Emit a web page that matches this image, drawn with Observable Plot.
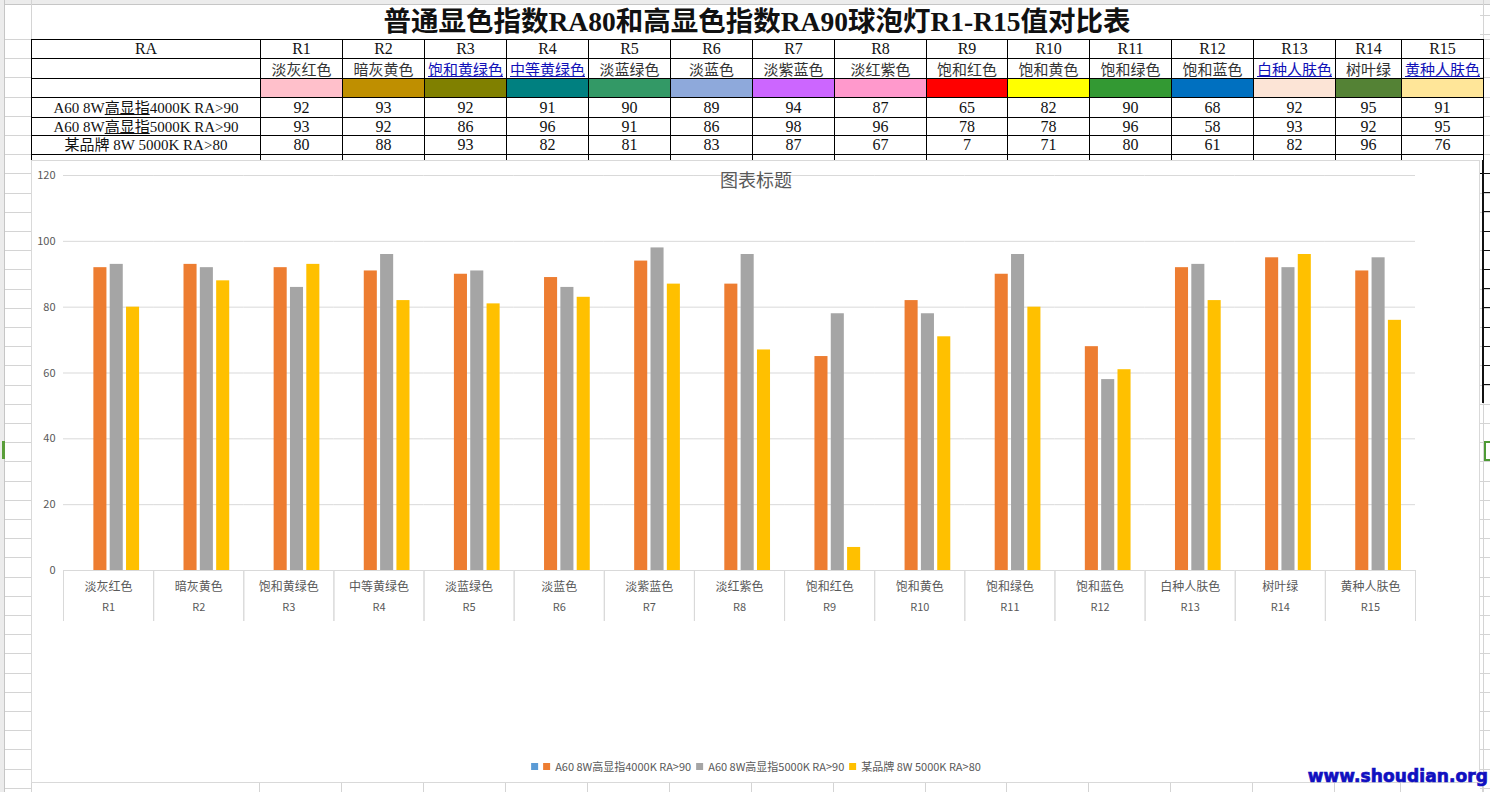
<!DOCTYPE html>
<html><head><meta charset="utf-8">
<script src="https://cdn.jsdelivr.net/npm/d3@7"></script>
<script src="https://cdn.jsdelivr.net/npm/@observablehq/plot@0.6"></script>
<style>
html,body{margin:0;padding:0;}
body{width:1490px;height:792px;overflow:hidden;position:relative;background:#fff;font-family:"Noto Sans CJK SC","Noto Sans",sans-serif;}
.abs{position:absolute;}
#colhdr{left:0;top:0;width:1490px;height:5px;background:#ececec;border-bottom:1px solid #c6c6c6;box-sizing:border-box;}
#rowhdr{left:0;top:0;width:5px;height:792px;background:#ececec;border-right:1px solid #c6c6c6;box-sizing:border-box;}
#leftgrid{left:5px;top:39px;width:26px;height:753px;background:repeating-linear-gradient(to bottom,#d4d4d4 0 1px,transparent 1px 19.2px);}
#rightgrid{left:1480px;top:0;width:10px;height:792px;background:repeating-linear-gradient(to bottom,#d4d4d4 0 1px,transparent 1px 19.2px);background-position:0 39px;}
#rightv{left:1483px;top:0;width:1px;height:792px;background:#d4d4d4;}
#leftv{left:31px;top:0;width:1px;height:792px;background:#d4d4d4;}
#blackaxis{left:1482px;top:160px;width:8px;height:243px;border-left:2px solid #111;box-sizing:border-box;
  background:repeating-linear-gradient(to bottom,transparent 0 13px,#111 13px 14px,transparent 14px 19.2px);}
#greenL{left:2px;top:441px;width:3px;height:18px;background:#5a9e3a;}
#greenR{left:1484px;top:441px;width:8px;height:20px;border:2px solid #4e9a36;box-sizing:border-box;}
#title{left:31px;width:1452px;top:5px;height:34px;line-height:34px;text-align:center;
  font-family:"Liberation Serif","Noto Sans CJK SC",serif;font-weight:bold;font-size:27.5px;color:#111;}
#sheet{left:31px;top:39px;border-collapse:collapse;table-layout:fixed;width:1453px;}
#sheet td{border:1px solid #000;padding:0;text-align:center;overflow:hidden;white-space:nowrap;
  font-family:"Liberation Serif","Noto Sans CJK SC",serif;font-size:16px;color:#111;line-height:16px;}
#sheet td.rl{font-size:15px;}
#sheet td.nm{font-family:"Noto Sans CJK SC",sans-serif;font-size:15px;color:#333;}
#sheet td.link{color:#1111b8;text-decoration:underline;}
#bottomcols{left:31px;top:783px;width:1452px;height:9px;}
#chart{left:31px;top:160px;width:1449px;height:623px;border:1px solid #d9d9d9;box-sizing:border-box;background:#fff;}
#plot{position:absolute;left:0;top:0;}
#ctitle{position:absolute;left:724px;top:6px;transform:translateX(-50%);font-size:18px;line-height:24px;color:#595959;white-space:nowrap;}
#legend{position:absolute;left:724px;top:597px;transform:translateX(-50%);display:flex;align-items:center;gap:5px;
  font-size:11px;line-height:16px;color:#595959;white-space:nowrap;}
#legend .it{display:flex;align-items:center;gap:5px;}
#legend .sw{width:7px;height:7px;display:inline-block;}
#wm{left:1290px;top:765px;width:198px;text-align:right;font-family:"DejaVu Sans",sans-serif;font-weight:bold;font-size:17px;
  color:#1010c0;letter-spacing:0.1px;line-height:22px;-webkit-text-stroke:0.7px #1010c0;}
</style></head>
<body>
<div id="colhdr" class="abs"></div>
<div id="rowhdr" class="abs"></div>
<div id="leftgrid" class="abs"></div>
<div id="rightgrid" class="abs"></div>
<div id="leftv" class="abs"></div>
<div id="rightv" class="abs"></div>
<div id="greenL" class="abs"></div>
<div id="title" class="abs">普通显色指数RA80和高显色指数RA90球泡灯R1-R15值对比表</div>
<table id="sheet" class="abs"></table>
<div id="bottomcols" class="abs"></div>
<div id="blackaxis" class="abs"></div>
<div id="greenR" class="abs"></div>
<div id="chart" class="abs">
  <div id="plot"></div>
  <div id="ctitle">图表标题</div>
  <div id="legend"></div>
</div>
<div id="wm" class="abs">www.shoudian.org</div>
<script>
// ---- data ----
const codes = ["R1","R2","R3","R4","R5","R6","R7","R8","R9","R10","R11","R12","R13","R14","R15"];
const colorNames = ["淡灰红色","暗灰黄色","饱和黄绿色","中等黄绿色","淡蓝绿色","淡蓝色","淡紫蓝色","淡红紫色","饱和红色","饱和黄色","饱和绿色","饱和蓝色","白种人肤色","树叶绿","黄种人肤色"];
const linkNames = ["R3","R4","R13","R15"];
const swatchColors = ["#FFC0CB","#BF8F00","#808000","#008080","#339966","#8EA9DB","#CC66FF","#FF99CC","#FF0000","#FFFF00","#339933","#0070C0","#FCE4D6","#548235","#FFE699"];
const seriesNames = ["", "A60 8W高显指4000K RA>90", "A60 8W高显指5000K RA>90", "某品牌 8W 5000K RA>80"];
const seriesColors = ["#5B9BD5", "#ED7D31", "#A5A5A5", "#FFC000"];
const ra4000 = [92,93,92,91,90,89,94,87,65,82,90,68,92,95,91];
const ra5000 = [93,92,86,96,91,86,98,96,78,78,96,58,93,92,95];
const brand  = [80,88,93,82,81,83,87,67,7,71,80,61,82,96,76];
const seriesValues = [[], ra4000, ra5000, brand];
const yTicks = [0,20,40,60,80,100,120];

// ---- sheet table ----
const colWidths = [229,82,82,82,82,82,82,82,92,81,82,82,82,82,66,82];
const rowHeights = [19,20,19,20,18,19,19];
const tbl = d3.select("#sheet");
tbl.append("colgroup").selectAll("col").data(colWidths).join("col").style("width", d => d + "px");
const esc = s => s.replace(/&/g,"&amp;").replace(/</g,"&lt;").replace(/>/g,"&gt;");
const labelHtml = s => esc(s).replace("高显指", "<u>高显指</u>");
const rows = [
  ["RA", ...codes].map(t => ({text: esc(t)})),
  ["", ...colorNames].map((t, i) => ({text: esc(t), cls: i === 0 ? "" : ("nm" + (linkNames.includes(codes[i-1]) ? " link" : ""))})),
  ["", ...swatchColors].map((c, i) => ({text: "", bg: i === 0 ? null : c})),
  ...seriesNames.slice(1).map((s, k) => [{text: labelHtml(s), cls: "rl"}, ...seriesValues[k+1].map(v => ({text: String(v)}))]),
  ["", ...codes].map(() => ({text: ""}))
];
rows.forEach((r, ri) => {
  const tr = tbl.append("tr").style("height", rowHeights[ri] + "px");
  r.forEach(c => {
    const td = tr.append("td").html(c.text);
    if (c.cls) td.attr("class", c.cls);
    if (c.bg) td.style("background", c.bg);
  });
});

// bottom strip column lines below chart
let acc = 0;
const bc = d3.select("#bottomcols");
colWidths.forEach(w => { acc += w; bc.append("div").style("position","absolute").style("left",(acc-1)+"px").style("top","0").style("width","1px").style("height","9px").style("background","#d4d4d4"); });

// ---- chart ----
const nameOf = Object.fromEntries(codes.map((c, i) => [c, colorNames[i]]));
const data = [];
seriesNames.forEach((s, si) => seriesValues[si].forEach((v, i) => data.push({code: codes[i], series: s, value: v})));

const chart = Plot.plot({
  width: 1447, height: 470,
  marginTop: 14, marginBottom: 61, marginLeft: 31, marginRight: 64,
  style: {fontFamily: "'Noto Sans CJK SC', sans-serif", background: "transparent", overflow: "visible"},
  fx: {domain: codes, padding: 0, round: false, label: null},
  x: {domain: seriesNames, paddingInner: 0.2, paddingOuter: 0.86, round: false, axis: null},
  y: {domain: [0, 120], label: null},
  color: {domain: seriesNames, range: seriesColors},
  marks: [
    Plot.gridY(yTicks, {stroke: "#d9d9d9", strokeOpacity: 1}),
    Plot.barY(data, {fx: "code", x: "series", y: "value", fill: "series"}),
    Plot.axisY(yTicks, {tickSize: 0, tickPadding: 8, fontSize: 11, fill: "#595959", label: null}),
    Plot.axisFx({anchor: "bottom", tickSize: 0, tickPadding: 12, fontSize: 12, fill: "#595959", tickFormat: c => nameOf[c], label: null}),
    Plot.axisFx({anchor: "bottom", tickSize: 0, tickPadding: 33, fontSize: 11, fill: "#595959", label: null}),
    Plot.frame({anchor: "left", stroke: "#d9d9d9", strokeOpacity: 1, insetTop: 395, insetBottom: -50}),
    Plot.frame({anchor: "right", stroke: "#d9d9d9", strokeOpacity: 1, insetTop: 395, insetBottom: -50})
  ]
});
document.getElementById("plot").appendChild(chart);

// ---- legend ----
const lg = d3.select("#legend");
seriesNames.forEach((s, i) => {
  const it = lg.append("div").attr("class", "it");
  it.append("span").attr("class", "sw").style("background", seriesColors[i]);
  if (s) it.append("span").text(s);
});
</script>
</body></html>
